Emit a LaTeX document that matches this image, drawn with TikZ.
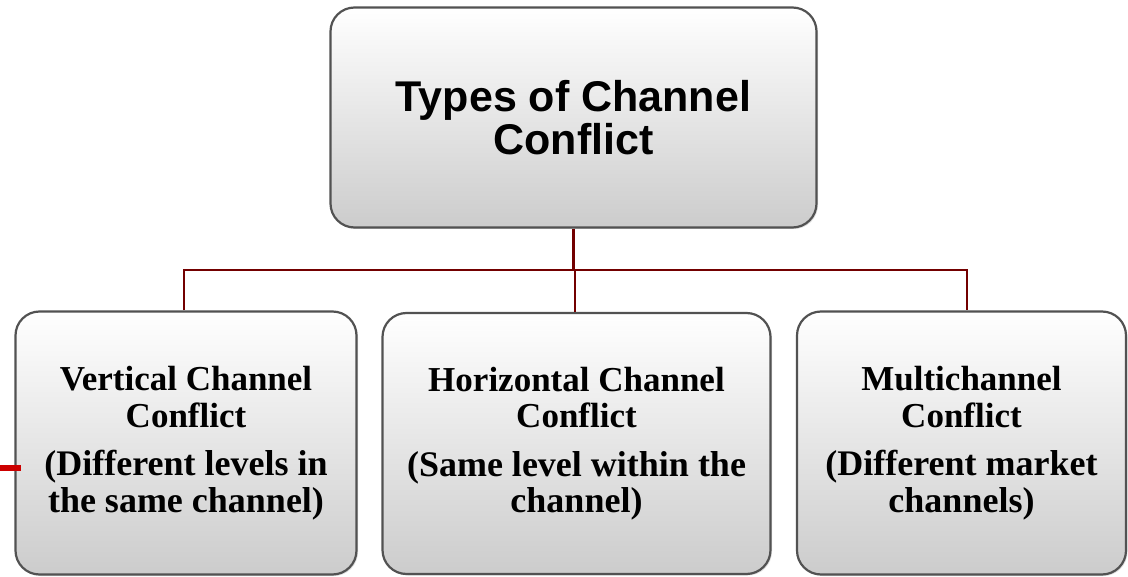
\documentclass[tikz,border=0pt]{standalone}
\usepackage{fontspec}
\setmainfont{Liberation Serif}
\newfontfamily\arialf{Liberation Sans}
\usetikzlibrary{shadows}
\tikzset{
  box/.style={rectangle, rounded corners=24pt, draw=black!68, line width=2.2pt,
    top color=white, bottom color=black!20, align=center, inner sep=0pt,
    drop shadow={shadow xshift=1.5pt, shadow yshift=-1.5pt, opacity=0.25}},
  headbox/.style={box, font=\arialf\bfseries\fontsize{43}{43}\selectfont},
  subbox/.style={box, font=\bfseries\fontsize{36}{36.5}\selectfont},
  conn/.style={draw=red!45!black, line width=2.4pt},
  tick/.style={draw=red!80!black, line width=6pt}
}
\newcommand{\ttl}[1]{{\fontsize{35}{36.5}\selectfont #1}}
\begin{document}
\begin{tikzpicture}[x=1pt,y=-1pt]
\useasboundingbox (0,0) rectangle (1128,577);
\node[headbox, minimum width=486pt, minimum height=220pt] (top) at (573.5,117.5)
  {Types of Channel\\Conflict};
\node[subbox, minimum width=341pt, minimum height=263pt] (left) at (186,443)
  {\ttl{Vertical Channel}\\\ttl{Conflict}\\[12pt](Different levels in\\the same channel)};
\node[subbox, minimum width=388pt, minimum height=261pt] (mid) at (576.5,443.5)
  {\ttl{Horizontal Channel}\\\ttl{Conflict}\\[12pt](Same level within the\\channel)};
\node[subbox, minimum width=329pt, minimum height=263pt] (right) at (961.5,443)
  {\ttl{Multichannel}\\\ttl{Conflict}\\[12pt](Different market\\channels)};
\coordinate (bus) at (0,270);
\draw[conn] (top.south) -- (top.south |- bus);
\draw[conn] ([xshift=-2pt]left.north) |- ([xshift=5.5pt]right.north |- bus) -- ([xshift=5.5pt]right.north);
\draw[conn] ([xshift=-1.5pt]mid.north |- bus) -- ([xshift=-1.5pt]mid.north);
\coordinate (t1) at (0,468);
\coordinate (t2) at (21,468);
\draw[tick] (t1) -- (t2);
\end{tikzpicture}
\end{document}
